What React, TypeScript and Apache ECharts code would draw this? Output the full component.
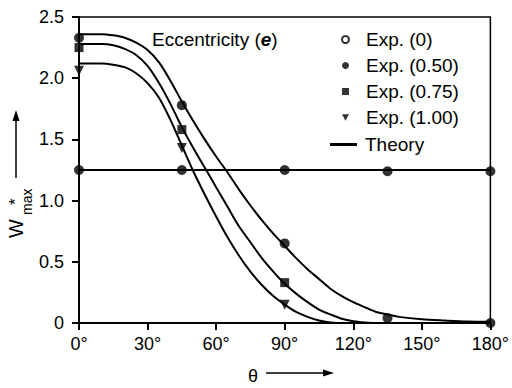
import React, { useEffect, useRef } from "react";
import * as echarts from "echarts";

const xTicks = [0, 30, 60, 90, 120, 150, 180];
const yTicks = [0, 0.5, 1.0, 1.5, 2.0, 2.5];

const theoryAngles = [0, 10, 15, 20, 25, 30, 35, 40, 45, 50, 55, 60, 65, 70, 75, 80, 85, 90, 95, 100, 105, 110, 115, 120, 125, 130, 135, 140, 150, 160, 170, 180];
const theoryE050 = [2.36, 2.36, 2.35, 2.33, 2.29, 2.23, 2.13, 1.98, 1.81, 1.65, 1.50, 1.36, 1.23, 1.09, 0.96, 0.84, 0.73, 0.63, 0.53, 0.44, 0.36, 0.28, 0.22, 0.17, 0.13, 0.09, 0.07, 0.05, 0.03, 0.02, 0.012, 0.01];
const theoryE075 = [2.28, 2.28, 2.27, 2.24, 2.19, 2.10, 1.96, 1.79, 1.60, 1.43, 1.27, 1.11, 0.95, 0.79, 0.66, 0.53, 0.42, 0.32, 0.24, 0.17, 0.11, 0.07, 0.035, 0.015, 0.005, 0, 0, 0, 0, 0, 0, 0];
const theoryE100 = [2.12, 2.12, 2.11, 2.09, 2.04, 1.96, 1.84, 1.66, 1.45, 1.24, 1.05, 0.87, 0.70, 0.55, 0.42, 0.31, 0.22, 0.15, 0.09, 0.05, 0.02, 0.005, 0, 0, 0, 0, 0, 0, 0, 0, 0, 0];
const theoryE0Angles = [0, 180];
const theoryE0 = [1.25, 1.25];

const expE0Angles = [0, 45, 90, 135, 180];
const expE0 = [1.25, 1.25, 1.25, 1.24, 1.24];
const expE050Angles = [0, 45, 90, 135, 180];
const expE050 = [2.33, 1.78, 0.65, 0.04, 0];
const expE075Angles = [0, 45, 90];
const expE075 = [2.25, 1.58, 0.33];
const expE100Angles = [0, 45, 90];
const expE100 = [2.06, 1.43, 0.15];

const legendExp = ["Exp. (0)", "Exp. (0.50)", "Exp. (0.75)", "Exp. (1.00)"];
const legendTheory = "Theory";

const FONT = "'Liberation Sans', Arial, sans-serif";
const TRI_DOWN = "path://M0,0L10,0L5,9Z";

const pairs = (xs: number[], ys: number[]) => xs.map((x, i) => [x, ys[i]]);

export default function App() {
  const ref = useRef<HTMLDivElement>(null);
  useEffect(() => {
    if (!ref.current) return;
    const chart = echarts.init(ref.current, null, { renderer: "svg" });
    const lineSeries = (data: number[][]) => ({
      type: "line",
      name: legendTheory,
      data,
      showSymbol: false,
      symbol: "none",
      smooth: 0.3,
      lineStyle: { color: "#000", width: 2 },
      itemStyle: { color: "#000" },
      z: 2,
    });
    const scatter = (name: string, data: number[][], symbol: string, size: number) => ({
      type: "scatter",
      name,
      data,
      symbol,
      symbolSize: size,
      itemStyle: { color: "#000" },
      z: 5,
    });
    chart.setOption({
      animation: false,
      backgroundColor: "#fff",
      textStyle: { fontFamily: FONT },
      grid: {
        left: 79,
        right: 19,
        top: 17,
        bottom: 65,
        show: true,
        borderColor: "#000",
        borderWidth: 1.5,
        backgroundColor: "transparent",
      },
      xAxis: {
        type: "value",
        min: 0,
        max: 180,
        interval: 30,
        axisLine: { show: true, lineStyle: { color: "#000", width: 2 } },
        axisTick: { show: true, inside: false, length: 7, lineStyle: { color: "#000", width: 2 } },
        splitLine: { show: false },
        axisLabel: {
          color: "#000",
          fontSize: 18,
          fontFamily: FONT,
          margin: 12,
          formatter: (v: number) => (xTicks.includes(v) ? `${v}°` : ""),
        },
      },
      yAxis: {
        type: "value",
        min: 0,
        max: 2.5,
        interval: 0.5,
        axisLine: { show: true, lineStyle: { color: "#000", width: 2 } },
        axisTick: { show: true, inside: false, length: 7, lineStyle: { color: "#000", width: 2 } },
        splitLine: { show: false },
        axisLabel: {
          color: "#000",
          fontSize: 18,
          fontFamily: FONT,
          margin: 15,
          formatter: (v: number) => {
            const t = yTicks.find((y) => Math.abs(y - v) < 1e-9);
            if (t === undefined) return "";
            return t === 0 ? "0" : t.toFixed(1);
          },
        },
      },
      legend: [
        {
          orient: "vertical",
          left: 341,
          top: 30,
          padding: 0,
          itemWidth: 7,
          itemHeight: 7,
          itemGap: 7,
          textStyle: { color: "#000", fontSize: 19, fontFamily: FONT, lineHeight: 19, padding: [0, 0, 0, 12] },
          data: [
            { name: legendExp[0], icon: "circle", itemStyle: { color: "#fff", borderColor: "#000", borderWidth: 2 } },
            { name: legendExp[1], icon: "circle" },
            { name: legendExp[2], icon: "rect" },
            { name: legendExp[3], icon: TRI_DOWN },
          ],
          selectedMode: false,
        },
        {
          orient: "vertical",
          left: 330,
          top: 135,
          padding: 0,
          itemWidth: 27,
          itemHeight: 3,
          textStyle: { color: "#000", fontSize: 19, fontFamily: FONT, lineHeight: 19, padding: [0, 0, 0, 3] },
          data: [{ name: legendTheory, icon: "rect", itemStyle: { color: "#000" } }],
          selectedMode: false,
        },
      ],
      graphic: [
        {
          type: "text",
          left: 152,
          top: 30,
          style: {
            text: "{a|Eccentricity (}{b|e}{a|)}",
            rich: {
              a: { fontSize: 19, fontFamily: FONT, fill: "#000" },
              b: { fontSize: 19, fontFamily: FONT, fontWeight: "bold", fontStyle: "italic", fill: "#000" },
            },
          },
        },
        {
          type: "line",
          shape: { x1: 16, y1: 178, x2: 16, y2: 118 },
          style: { stroke: "#000", lineWidth: 1.5 },
        },
        {
          type: "polygon",
          shape: { points: [[16, 110], [12.5, 121], [19.5, 121]] },
          style: { fill: "#000" },
        },
        {
          type: "group",
          x: 26,
          y: 238,
          rotation: Math.PI / 2,
          children: [
            { type: "text", x: 0, y: 0, style: { text: "W", fontSize: 20, fontFamily: FONT, fill: "#000", verticalAlign: "bottom" } },
            { type: "text", x: 23, y: 8, style: { text: "max", fontSize: 14, fontFamily: FONT, fill: "#000", verticalAlign: "bottom" } },
            { type: "text", x: 33, y: -19, style: { text: "*", fontSize: 17, fontFamily: FONT, fill: "#000", verticalAlign: "top" } },
          ],
        },
        {
          type: "text",
          x: 253,
          y: 376,
          style: { text: "θ", fontSize: 18, fontFamily: FONT, fill: "#000", align: "center", verticalAlign: "middle" },
        },
        {
          type: "line",
          shape: { x1: 266, y1: 373, x2: 326, y2: 373 },
          style: { stroke: "#000", lineWidth: 1.5 },
        },
        {
          type: "polygon",
          shape: { points: [[334, 373], [323, 369.5], [323, 376.5]] },
          style: { fill: "#000" },
        },
      ],
      series: [
        lineSeries(pairs(theoryE0Angles, theoryE0)),
        lineSeries(pairs(theoryAngles, theoryE050)),
        lineSeries(pairs(theoryAngles, theoryE075)),
        lineSeries(pairs(theoryAngles, theoryE100)),
        scatter(legendExp[0], pairs(expE0Angles, expE0), "circle", 10),
        scatter(legendExp[1], pairs(expE050Angles, expE050), "circle", 10),
        scatter(legendExp[2], pairs(expE075Angles, expE075), "rect", 9),
        scatter(legendExp[3], pairs(expE100Angles, expE100), TRI_DOWN, 10),
      ],
    });
    return () => chart.dispose();
  }, []);
  return <div ref={ref} style={{ width: 512, height: 388, position: "absolute", left: 0, top: 0 }} />;
}
